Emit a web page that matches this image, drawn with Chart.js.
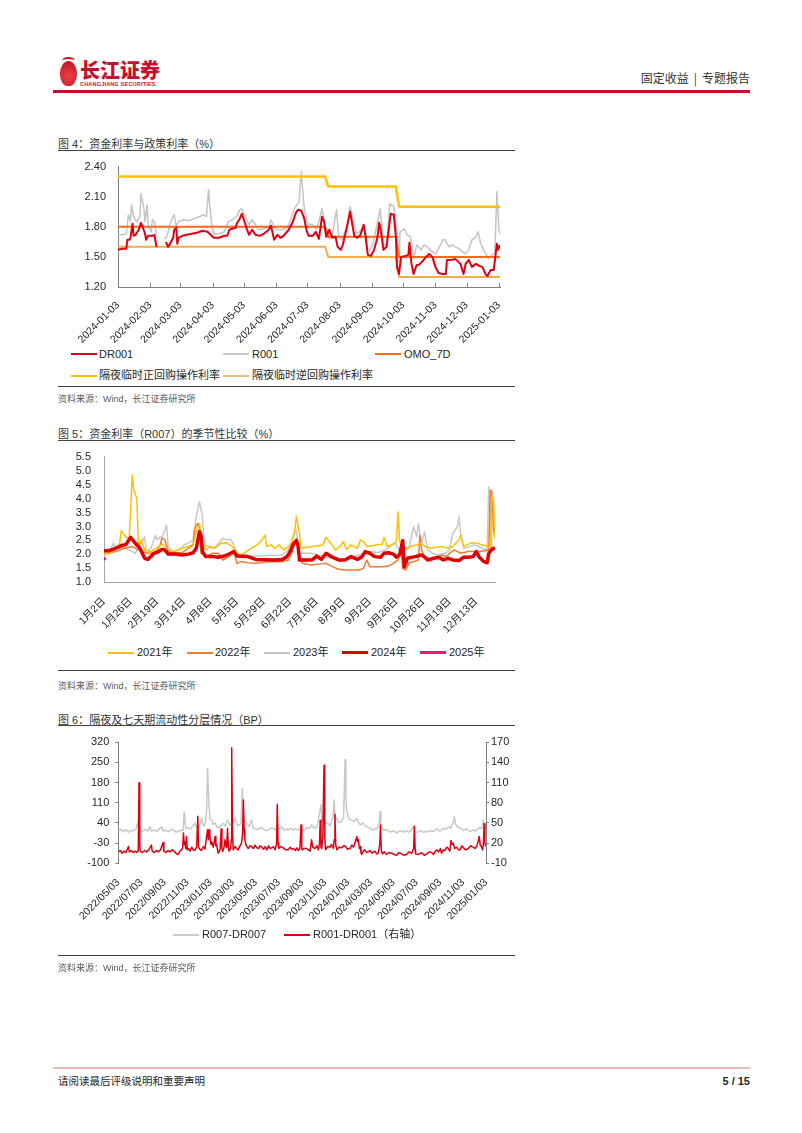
<!DOCTYPE html>
<html><head><meta charset="utf-8">
<script src="https://cdn.jsdelivr.net/npm/chart.js@4.4.1/dist/chart.umd.min.js"></script>
<style>
html,body{margin:0;padding:0;background:#fff;}
body{width:802px;height:1133px;position:relative;overflow:hidden;font-family:"Liberation Sans",Arial,"Noto Sans CJK SC",sans-serif;color:#262626;}
.rule{position:absolute;left:58px;width:457px;height:1px;background:#404040;}
.title{position:absolute;left:58px;font-size:11px;color:#333;line-height:12px;white-space:nowrap;}
.src{position:absolute;left:58px;font-size:9px;color:#595959;line-height:11px;white-space:nowrap;}
.lg{position:absolute;font-size:11px;line-height:13px;white-space:nowrap;color:#262626;}
.sw{position:absolute;height:2px;width:26px;}
canvas{position:absolute;}
</style></head>
<body>
<!-- header -->
<div style="position:absolute;left:60px;top:61px;width:17px;height:25px;border-radius:50% 50% 46% 46%;background:radial-gradient(circle at 50% 60%,#f04048,#b5121b);"></div>
<div style="position:absolute;left:62px;top:57px;width:13px;height:5px;border-top:2px solid #c8102e;border-radius:50%;"></div>
<div style="position:absolute;left:80px;top:59px;font-family:'Noto Sans CJK SC';font-weight:900;font-size:20px;line-height:22px;color:#c8102e;">长江证券</div>
<div style="position:absolute;left:80px;top:81px;font-size:5.5px;line-height:6px;font-weight:bold;color:#c8102e;letter-spacing:0.2px;">CHANGJIANG SECURITIES</div>
<div style="position:absolute;right:52px;top:71px;font-size:12px;line-height:14px;color:#333;font-family:'Noto Sans CJK SC';white-space:nowrap;">固定收益<span style="margin:0 5px;">|</span>专题报告</div>
<div style="position:absolute;left:53px;top:90px;width:697px;height:2.5px;background:#c8102e;"></div>

<!-- chart 4 -->
<div class="title" style="top:138px;">图 4：资金利率与政策利率（%）</div>
<div class="rule" style="top:150px;"></div>
<canvas id="c4" width="470" height="190" style="left:55px;top:155px;width:470px;height:190px"></canvas>
<div class="sw" style="left:71px;top:353px;background:#E00012;"></div><div class="lg" style="left:99px;top:347.5px;">DR001</div>
<div class="sw" style="left:223px;top:353px;background:#C8C8C8;"></div><div class="lg" style="left:252px;top:347.5px;">R001</div>
<div class="sw" style="left:375px;top:353px;background:#FF6A1A;"></div><div class="lg" style="left:404px;top:347.5px;">OMO_7D</div>
<div class="sw" style="left:71px;top:374.5px;background:#FFC000;"></div><div class="lg" style="left:99px;top:369px;">隔夜临时正回购操作利率</div>
<div class="sw" style="left:223px;top:374.5px;background:#E9C07A;"></div><div class="lg" style="left:252px;top:369px;">隔夜临时逆回购操作利率</div>
<div class="rule" style="top:386px;"></div>
<div class="src" style="top:394px;">资料来源：Wind，长江证券研究所</div>

<!-- chart 5 -->
<div class="title" style="top:428px;">图 5：资金利率（R007）的季节性比较（%）</div>
<div class="rule" style="top:440px;"></div>
<canvas id="c5" width="470" height="190" style="left:55px;top:445px;width:470px;height:190px"></canvas>
<div class="sw" style="left:108px;top:651.5px;background:#FFC000;"></div><div class="lg" style="left:137px;top:646px;">2021年</div>
<div class="sw" style="left:187px;top:651.5px;background:#ED7D31;"></div><div class="lg" style="left:215px;top:646px;">2022年</div>
<div class="sw" style="left:264px;top:651.5px;background:#C8C8C8;"></div><div class="lg" style="left:293px;top:646px;">2023年</div>
<div class="sw" style="left:342px;top:650.5px;height:3.5px;background:#E00000;"></div><div class="lg" style="left:371px;top:646px;">2024年</div>
<div class="sw" style="left:420px;top:651px;height:3px;background:#F0147D;"></div><div class="lg" style="left:449px;top:646px;">2025年</div>
<div class="rule" style="top:670px;"></div>
<div class="src" style="top:680.5px;">资料来源：Wind，长江证券研究所</div>

<!-- chart 6 -->
<div class="title" style="top:714px;">图 6：隔夜及七天期流动性分层情况（BP）</div>
<div class="rule" style="top:725px;"></div>
<canvas id="c6" width="470" height="200" style="left:55px;top:730px;width:470px;height:200px"></canvas>
<div class="sw" style="left:173px;top:933.5px;background:#C8C8C8;"></div><div class="lg" style="left:202px;top:928px;">R007-DR007</div>
<div class="sw" style="left:284px;top:933.5px;background:#E00012;"></div><div class="lg" style="left:313px;top:928px;">R001-DR001（右轴）</div>
<div class="rule" style="top:955px;"></div>
<div class="src" style="top:963px;">资料来源：Wind，长江证券研究所</div>

<!-- footer -->
<div style="position:absolute;left:53px;top:1067px;width:697px;height:2px;background:#F4B9B9;"></div>
<div style="position:absolute;left:58px;top:1075px;font-size:10.5px;line-height:12px;color:#262626;font-family:'Noto Sans CJK SC';">请阅读最后评级说明和重要声明</div>
<div style="position:absolute;right:52px;top:1075px;font-size:11px;line-height:12px;font-weight:bold;color:#262626;">5 / 15</div>

<script>
// ===== Chart 4 data (x = days since 2024-01-03) =====
const c4TickDays = [0,31,60,91,121,152,182,213,244,274,305,335,366];
const c4TickLabels = ['2024-01-03','2024-02-03','2024-03-03','2024-04-03','2024-05-03','2024-06-03','2024-07-03','2024-08-03','2024-09-03','2024-10-03','2024-11-03','2024-12-03','2025-01-03'];
const c4YTicks = [1.2,1.5,1.8,2.1,2.4];
const dr001 = [[0,1.57],[4,1.58],[8,1.58],[9,1.67],[11,1.67],[12,1.69],[14,1.83],[15,1.71],[17,1.72],[18,1.74],[20,1.77],[22,1.84],[24,1.79],[26,1.73],[27,1.67],[29,1.71],[31,1.71],[33,1.71],[35,1.72],[37,1.60],[41,null],[46,1.65],[48,1.60],[50,1.63],[53,1.69],[54,1.77],[56,1.79],[57,1.63],[58,1.69],[62,1.71],[66,1.72],[71,1.73],[76,1.74],[81,1.76],[86,1.75],[89,1.72],[92,1.69],[97,1.69],[102,1.71],[105,1.71],[107,1.77],[110,1.78],[113,1.79],[114,1.83],[117,1.88],[119,1.93],[121,1.87],[124,1.77],[126,1.72],[129,1.77],[132,1.72],[136,1.71],[140,1.73],[145,1.77],[147,1.81],[150,1.67],[153,1.72],[156,1.69],[159,1.71],[164,1.77],[168,1.85],[171,1.94],[173,1.97],[176,1.96],[179,1.88],[181,1.77],[183,1.71],[187,1.71],[190,1.75],[193,1.68],[196,1.90],[198,1.85],[200,1.70],[203,1.77],[206,1.69],[209,1.70],[211,1.60],[214,1.57],[216,1.62],[220,1.80],[223,1.95],[225,1.83],[227,1.71],[230,1.69],[233,1.72],[236,1.82],[238,1.70],[240,1.52],[243,1.51],[246,1.57],[249,1.68],[251,1.84],[253,1.73],[255,1.57],[258,1.60],[262,1.93],[265,1.92],[267,1.70],[268,1.40],[270,1.33],[272,1.50],[276,1.51],[279,1.52],[280,1.64],[282,1.43],[284,1.33],[287,1.42],[289,1.42],[292,1.45],[296,1.50],[299,1.53],[302,1.50],[305,1.40],[308,1.34],[312,1.33],[315,1.33],[316,1.47],[320,1.47],[324,1.48],[329,1.43],[332,1.33],[334,1.43],[337,1.47],[340,1.40],[344,1.43],[347,1.41],[350,1.40],[353,1.33],[355,1.31],[358,1.37],[361,1.37],[364,1.63],[365,1.57],[367,1.62]];
const r001 = [[0,1.72],[5,1.72],[8,1.73],[10,1.92],[12,1.85],[13,2.02],[15,1.90],[18,1.85],[21,1.90],[22,2.13],[25,1.98],[26,1.85],[28,2.02],[29,1.80],[32,1.75],[33,1.87],[35,1.85],[37,1.73],[41,null],[44,1.68],[47,1.70],[50,1.83],[53,1.90],[54,1.92],[56,1.80],[58,1.85],[63,1.87],[68,1.86],[73,1.88],[78,1.90],[82,1.92],[85,1.90],[87,2.17],[88,2.03],[90,1.82],[92,1.73],[97,1.73],[102,1.75],[106,1.85],[110,1.87],[114,1.90],[117,1.97],[119,1.98],[121,1.93],[124,1.87],[126,1.82],[129,1.87],[132,1.82],[135,1.77],[140,1.78],[145,1.80],[147,1.87],[150,1.80],[153,1.77],[156,1.77],[161,1.78],[164,1.82],[167,1.90],[169,1.97],[174,2.05],[176,2.35],[179,1.97],[182,1.83],[187,1.82],[191,1.77],[196,1.98],[199,1.80],[203,1.68],[206,1.72],[210,1.97],[212,1.70],[215,1.67],[220,1.80],[223,2.00],[226,1.87],[229,1.73],[232,1.75],[236,1.80],[239,1.57],[242,1.57],[245,1.63],[249,1.83],[252,1.98],[255,1.63],[258,1.60],[261,2.03],[265,2.00],[268,1.78],[270,1.45],[271,1.75],[275,1.78],[278,1.72],[281,1.70],[284,1.48],[287,1.62],[291,1.57],[294,1.62],[297,1.60],[300,1.57],[305,1.53],[308,1.58],[312,1.67],[314,1.67],[318,1.60],[321,1.62],[324,1.60],[328,1.58],[331,1.55],[334,1.53],[337,1.57],[340,1.67],[344,1.70],[346,1.75],[348,1.65],[352,1.55],[354,1.52],[356,1.48],[360,1.53],[362,1.53],[364,2.15],[366,1.77],[367,1.73]];
const policyDay = [0,199,202,267,270,367];
const omo7d     = [1.80,1.80,1.70,1.70,1.50,1.50];
const posRepo   = [2.30,2.30,2.20,2.20,2.00,2.00];
const revRepo   = [1.60,1.60,1.50,1.50,1.30,1.30];

// ===== Chart 5 data (x = trading-day index in year) =====
const c5TickIdx = [0,17,34,51,68,85,102,119,136,153,170,187,204,221,238];
const c5TickLabels = ['1月2日','1月26日','2月19日','3月14日','4月8日','5月5日','5月29日','6月22日','7月16日','8月9日','9月2日','9月26日','10月26日','11月19日','12月13日'];
const c5YTicks = [1.0,1.5,2.0,2.5,3.0,3.5,4.0,4.5,5.0,5.5];
const y2021 = [[0,2.00],[4,2.05],[7,2.20],[10,2.40],[11,2.85],[13,2.69],[16,2.52],[17,3.50],[18,4.84],[19,4.31],[21,4.00],[22,2.28],[24,2.52],[26,2.16],[30,2.10],[35,2.28],[37,2.37],[41,2.16],[45,2.10],[50,2.22],[54,2.28],[57,2.37],[59,2.81],[61,3.11],[62,2.75],[65,2.16],[68,2.28],[71,2.22],[75,2.40],[78,2.42],[82,2.28],[85,2.04],[88,1.98],[91,2.10],[94,2.22],[98,2.34],[101,2.52],[103,2.69],[104,2.28],[107,2.34],[109,2.22],[112,2.34],[115,2.16],[118,2.28],[120,2.46],[122,2.87],[123,3.35],[125,2.75],[126,2.22],[133,2.28],[140,2.34],[142,2.61],[145,2.40],[148,2.16],[151,2.28],[153,2.46],[155,2.18],[158,2.34],[162,2.22],[164,2.52],[166,2.46],[168,2.28],[174,2.34],[178,2.37],[179,2.61],[181,2.28],[184,2.34],[187,2.46],[188,3.53],[189,2.52],[190,2.28],[194,2.22],[197,2.30],[200,2.34],[203,2.40],[205,2.28],[209,2.22],[216,2.28],[220,2.22],[223,2.28],[227,2.52],[228,2.69],[230,2.28],[232,2.34],[235,2.42],[238,2.40],[242,2.34],[245,2.30],[247,2.20],[248,4.05],[249,4.00],[250,2.55]];
const y2022 = [[0,2.00],[3,2.04],[9,2.13],[13,2.22],[18,2.28],[22,2.16],[24,2.10],[28,2.04],[33,2.06],[36,2.34],[37,2.58],[39,2.52],[41,2.10],[45,2.06],[50,2.06],[54,2.22],[57,2.34],[58,2.93],[60,3.11],[61,2.95],[62,2.04],[66,1.94],[69,2.04],[73,2.04],[76,1.80],[80,1.92],[83,2.10],[85,1.68],[88,1.74],[92,1.70],[97,1.68],[105,1.74],[114,1.74],[118,1.80],[120,2.04],[122,2.40],[123,2.58],[125,1.86],[127,1.68],[132,1.62],[139,1.66],[142,1.68],[146,1.56],[150,1.47],[154,1.44],[163,1.44],[166,1.50],[168,1.80],[170,1.56],[178,1.56],[182,1.58],[185,1.68],[188,1.80],[190,2.10],[191,1.50],[193,1.44],[195,1.70],[198,1.74],[201,1.80],[202,2.69],[203,2.16],[205,1.92],[209,1.80],[212,1.86],[216,1.98],[219,1.92],[221,2.04],[224,2.16],[228,2.04],[233,2.10],[240,2.10],[246,2.16],[247,4.31],[248,4.25],[249,2.87],[250,2.60]];
const y2023 = [[0,2.00],[4,2.10],[6,2.40],[8,2.22],[11,2.28],[14,2.22],[18,2.10],[20,2.04],[22,2.22],[25,2.52],[26,2.63],[27,2.10],[30,2.22],[33,2.69],[34,2.52],[36,2.63],[37,2.58],[40,3.05],[41,2.28],[44,2.10],[48,2.16],[51,2.34],[54,2.40],[57,2.52],[59,3.35],[61,3.89],[63,3.35],[64,2.34],[67,2.28],[70,2.22],[73,2.37],[76,2.58],[78,2.52],[81,2.54],[83,2.34],[85,2.04],[88,1.92],[114,1.98],[118,2.16],[121,2.58],[123,2.87],[124,2.40],[125,2.04],[133,2.04],[141,1.92],[146,1.86],[154,1.82],[158,1.90],[163,1.98],[171,2.10],[175,2.06],[180,2.16],[183,2.28],[186,2.40],[188,2.22],[191,2.10],[195,2.22],[198,2.99],[200,2.63],[201,3.11],[203,2.40],[205,2.81],[207,2.16],[210,2.04],[214,1.98],[218,2.04],[221,2.16],[223,2.75],[226,2.99],[227,3.35],[228,2.75],[230,2.22],[237,2.34],[242,2.22],[245,2.16],[246,4.42],[247,3.71],[248,2.28],[250,2.04]];
const y2024 = [[0,2.13],[3,2.13],[6,2.19],[9,2.25],[11,2.32],[14,2.35],[17,2.61],[20,2.40],[23,2.22],[26,1.86],[28,1.82],[32,2.04],[35,2.10],[37,2.18],[39,2.16],[41,2.01],[45,2.01],[50,1.98],[54,2.01],[57,2.06],[59,2.22],[61,2.81],[62,2.69],[63,2.10],[65,1.92],[70,1.92],[73,1.90],[77,1.94],[81,2.04],[83,2.10],[85,1.94],[92,1.92],[97,1.82],[109,1.80],[114,1.82],[117,1.92],[119,2.10],[121,2.37],[123,2.49],[124,2.34],[125,1.80],[133,1.80],[136,1.94],[139,1.82],[142,2.04],[146,1.90],[150,1.80],[154,1.80],[158,1.92],[162,1.82],[165,1.92],[167,2.10],[170,2.04],[173,1.92],[177,1.90],[179,2.04],[182,2.06],[185,2.01],[187,1.90],[189,1.98],[191,2.49],[192,1.55],[194,1.86],[199,1.92],[203,1.98],[205,1.90],[207,1.80],[211,1.86],[214,1.90],[217,1.80],[220,1.86],[223,1.80],[227,1.78],[230,1.90],[233,1.90],[236,1.92],[238,2.10],[240,1.90],[243,1.74],[245,1.70],[246,2.04],[248,2.18],[250,2.24]];
const y2025 = [[0,1.80],[1,1.88]];

// ===== Chart 6 data (x = days since 2022-05-03) =====
const c6TickDays = [0,61,123,184,245,304,365,426,488,549,610,670,731,792,854,915,976];
const c6TickLabels = ['2022/05/03','2022/07/03','2022/09/03','2022/11/03','2023/01/03','2023/03/03','2023/05/03','2023/07/03','2023/09/03','2023/11/03','2024/01/03','2024/03/03','2024/05/03','2024/07/03','2024/09/03','2024/11/03','2025/01/03'];
const c6LeftTicks = [-100,-30,40,110,180,250,320];
const c6RightTicks = [-10,20,50,80,110,140,170];
const r007Spread = [[0,12],[7,18],[13,10],[20,16],[27,8],[33,14],[40,12],[47,20],[53,45],[56,14],[63,10],[71,18],[78,12],[84,27],[88,12],[95,16],[102,10],[109,20],[115,27],[119,12],[126,15],[133,10],[140,16],[146,18],[152,9],[159,10],[165,15],[172,14],[175,79],[179,20],[185,24],[190,18],[197,28],[204,39],[208,22],[212,25],[217,35],[221,56],[225,30],[228,30],[231,45],[234,73],[237,230],[240,120],[243,55],[248,50],[252,35],[257,40],[261,28],[265,22],[272,30],[279,39],[284,28],[290,50],[296,33],[303,40],[310,56],[315,35],[319,30],[326,40],[329,160],[332,80],[336,45],[341,39],[347,28],[354,50],[358,22],[365,20],[372,18],[378,24],[385,20],[391,14],[398,15],[404,22],[411,22],[417,16],[423,28],[429,20],[434,27],[440,14],[446,20],[451,15],[458,22],[464,14],[469,20],[475,15],[481,22],[487,18],[494,14],[500,25],[507,20],[513,33],[520,22],[527,25],[531,50],[535,80],[538,103],[541,45],[544,62],[550,40],[557,39],[562,30],[566,45],[570,60],[573,120],[576,50],[580,56],[586,40],[593,45],[598,60],[602,259],[604,120],[606,85],[612,55],[619,50],[626,45],[633,56],[638,40],[642,33],[650,40],[655,30],[659,27],[668,22],[672,18],[677,15],[683,22],[688,20],[692,40],[695,79],[697,30],[699,25],[705,14],[710,18],[717,13],[723,8],[728,14],[734,10],[740,6],[746,12],[752,12],[758,8],[764,14],[770,8],[776,12],[783,27],[786,15],[788,10],[795,8],[800,14],[805,12],[812,7],[817,12],[823,9],[829,14],[834,10],[840,14],[846,20],[852,12],[858,15],[864,22],[870,18],[876,27],[882,22],[886,35],[889,40],[892,62],[895,38],[898,30],[904,24],[911,20],[917,14],[923,20],[929,15],[935,10],[941,16],[947,12],[953,18],[960,25],[965,20],[969,50],[971,35],[973,27],[976,20]];
const r001Spread = [[0,7],[5,9],[10,5],[15,8],[20,6],[27,15],[29,7],[35,9],[40,6],[45,8],[49,6],[53,9],[55,110],[57,20],[58,8],[64,6],[70,9],[75,7],[81,10],[88,17],[90,8],[96,6],[101,9],[106,7],[112,10],[119,21],[121,8],[127,6],[132,9],[137,7],[143,10],[150,7],[155,4],[159,3],[163,8],[168,10],[171,14],[173,35],[175,18],[177,22],[179,12],[181,30],[183,10],[186,12],[190,8],[195,14],[200,9],[204,10],[208,14],[211,60],[213,14],[215,12],[220,9],[226,15],[230,11],[234,28],[237,40],[239,25],[241,40],[243,30],[246,18],[248,22],[252,14],[257,30],[259,16],[261,18],[264,8],[265,5],[270,10],[273,41],[275,12],[277,8],[280,12],[283,25],[286,14],[288,20],[290,42],[292,16],[294,8],[298,12],[300,25],[301,162],[303,40],[305,10],[310,15],[314,12],[318,10],[323,16],[327,20],[330,35],[332,84],[334,40],[336,25],[340,16],[345,12],[350,16],[354,15],[358,12],[363,17],[368,13],[372,12],[376,16],[381,14],[386,11],[390,15],[394,10],[399,16],[403,12],[407,13],[412,15],[416,10],[420,18],[422,78],[424,20],[426,12],[431,15],[438,13],[444,10],[451,10],[456,14],[461,11],[465,12],[470,9],[474,13],[478,9],[482,12],[485,47],[487,14],[488,10],[494,12],[500,12],[505,10],[509,8],[513,25],[516,14],[522,12],[527,16],[531,10],[534,20],[536,54],[538,14],[540,12],[543,30],[546,136],[548,30],[550,10],[556,15],[562,14],[566,18],[571,12],[573,25],[575,63],[577,18],[580,10],[586,14],[593,13],[598,16],[602,16],[608,11],[615,12],[620,17],[624,14],[628,20],[633,30],[635,22],[637,26],[640,12],[642,15],[644,6],[646,3],[650,8],[653,10],[660,6],[668,9],[674,5],[681,8],[686,4],[690,5],[694,18],[696,47],[698,10],[701,4],[706,7],[712,3],[718,6],[726,5],[732,3],[739,2],[745,6],[752,4],[758,2],[765,3],[772,7],[779,5],[784,12],[786,45],[788,10],[789,4],[796,3],[805,6],[812,2],[819,4],[826,7],[832,6],[837,3],[841,8],[846,10],[850,7],[855,12],[858,5],[863,10],[867,9],[872,14],[876,12],[880,8],[883,24],[886,18],[889,20],[893,12],[898,14],[903,10],[907,10],[912,16],[916,13],[922,10],[929,12],[935,16],[942,14],[947,12],[951,15],[955,22],[958,30],[961,16],[963,16],[967,10],[969,18],[971,49],[973,20],[976,15]];

// ===== helpers =====
Chart.defaults.font.family = '"Liberation Sans","Noto Sans CJK SC",sans-serif';
Chart.defaults.color = '#262626';
const pts = arr => arr.map(p => ({x:p[0], y:p[1]}));
const zip = (xs, ys) => xs.map((x,i) => ({x:x, y:ys[i]}));
const fixedTicks = vals => scale => { scale.ticks = vals.map(v => ({value:v})); };
// fix axis width and keep the vertical label padding small (so layout padding decides the plot top)
const fitW = w => s => { s.width = w; s.paddingTop = 6; s.paddingBottom = 6; };
const fitH = h => s => { s.height = h; };
const innerTicks = {
  id:'innerTicks',
  afterDraw(chart, args, opts){
    if(!opts || !opts.len) return;
    const s = chart.scales.x, ctx = chart.ctx, b = chart.chartArea.bottom;
    ctx.save(); ctx.strokeStyle = opts.color; ctx.lineWidth = 1;
    s.ticks.forEach(t => {
      const px = Math.round(s.getPixelForValue(t.value)) + 0.5;
      ctx.beginPath(); ctx.moveTo(px, b); ctx.lineTo(px, b - opts.len); ctx.stroke();
    });
    ctx.restore();
  }
};
const baseOpts = {
  responsive:false, devicePixelRatio:1, animation:false,
  elements:{point:{radius:0,hoverRadius:0}, line:{tension:0, borderJoinStyle:'round', borderCapStyle:'butt'}},
  plugins:{legend:{display:false}, tooltip:{enabled:false}},
  spanGaps:false
};

// ===== Chart 4 =====
new Chart(document.getElementById('c4'), {
  type:'line',
  data:{datasets:[
    {label:'DR001', data:pts(dr001), borderColor:'#E00012', borderWidth:2, order:1},
    {label:'R001', data:pts(r001), borderColor:'#C4C4C4', borderWidth:1.5, order:5},
    {label:'OMO_7D', data:zip(policyDay, omo7d), borderColor:'#FF6A1A', borderWidth:2, order:2},
    {label:'隔夜临时正回购操作利率', data:zip(policyDay, posRepo), borderColor:'#FFC000', borderWidth:2.5, order:3},
    {label:'隔夜临时逆回购操作利率', data:zip(policyDay, revRepo), borderColor:'#F2AE48', borderWidth:2, order:4}
  ]},
  options:Object.assign({}, baseOpts, {
    layout:{padding:{top:11.5, right:25, left:0, bottom:0}},
    plugins:{legend:{display:false}, tooltip:{enabled:false}, innerTicks:{len:4, color:'#7f7f7f'}},
    scales:{
      x:{type:'linear', min:0, max:367, afterBuildTicks:fixedTicks(c4TickDays), afterFit:fitH(58),
         grid:{display:false}, border:{display:true, color:'#7f7f7f', width:1},
         ticks:{autoSkip:false, maxRotation:45, minRotation:45, padding:4, font:{size:10.5}, color:'#262626',
                callback:(v,i) => c4TickLabels[i]}},
      y:{type:'linear', min:1.2, max:2.4, afterBuildTicks:fixedTicks(c4YTicks), afterFit:fitW(63),
         grid:{display:false, drawTicks:false}, border:{display:true, color:'#7f7f7f', width:1},
         ticks:{autoSkip:false, padding:12, font:{size:11}, color:'#262626', callback:v => v.toFixed(2)}}
    }
  }),
  plugins:[innerTicks]
});

// ===== Chart 5 =====
new Chart(document.getElementById('c5'), {
  type:'line',
  data:{datasets:[
    {label:'2021年', data:pts(y2021), borderColor:'#FFC000', borderWidth:1.5, order:3},
    {label:'2022年', data:pts(y2022), borderColor:'#ED7D31', borderWidth:1.5, order:4},
    {label:'2023年', data:pts(y2023), borderColor:'#C8C8C8', borderWidth:1.5, order:5},
    {label:'2024年', data:pts(y2024), borderColor:'#E00000', borderWidth:3.5, order:1},
    {label:'2025年', data:pts(y2025), borderColor:'#F0147D', borderWidth:2.5, order:0}
  ]},
  options:Object.assign({}, baseOpts, {
    layout:{padding:{top:11.7, right:30, left:0, bottom:0}},
    scales:{
      x:{type:'linear', min:0, max:250, afterBuildTicks:fixedTicks(c5TickIdx), afterFit:fitH(52.7),
         grid:{display:false}, border:{display:true, color:'#a6a6a6', width:1},
         ticks:{autoSkip:false, maxRotation:45, minRotation:45, padding:5, font:{size:10.5}, color:'#262626',
                callback:(v,i) => c5TickLabels[i]}},
      y:{type:'linear', min:1.0, max:5.5, afterBuildTicks:fixedTicks(c5YTicks), afterFit:fitW(49),
         grid:{display:false, drawTicks:false}, border:{display:true, color:'#a6a6a6', width:1},
         ticks:{autoSkip:false, padding:13, font:{size:11}, color:'#262626', callback:v => v.toFixed(1)}}
    }
  })
});

// ===== Chart 6 =====
new Chart(document.getElementById('c6'), {
  type:'line',
  data:{datasets:[
    {label:'R007-DR007', data:pts(r007Spread), borderColor:'#C8C8C8', borderWidth:1.5, yAxisID:'y', order:2},
    {label:'R001-DR001（右轴）', data:pts(r001Spread), borderColor:'#E00012', borderWidth:1.5, yAxisID:'y1', order:1}
  ]},
  options:Object.assign({}, baseOpts, {
    layout:{padding:{top:12.3, right:0, left:0, bottom:0}},
    scales:{
      x:{type:'linear', min:0, max:976, afterBuildTicks:fixedTicks(c6TickDays), afterFit:fitH(66.7),
         grid:{display:false}, border:{display:false},
         ticks:{autoSkip:false, maxRotation:45, minRotation:45, padding:5, font:{size:10.5}, color:'#262626',
                callback:(v,i) => c6TickLabels[i]}},
      y:{type:'linear', position:'left', min:-100, max:320, afterBuildTicks:fixedTicks(c6LeftTicks), afterFit:fitW(63.3),
         grid:{display:true, drawOnChartArea:false, drawTicks:true, tickLength:3, color:'#7f7f7f'},
         border:{display:true, color:'#7f7f7f', width:1},
         ticks:{autoSkip:false, padding:6, font:{size:11}, color:'#262626'}},
      y1:{type:'linear', position:'right', min:-10, max:170, afterBuildTicks:fixedTicks(c6RightTicks), afterFit:fitW(39),
         grid:{display:true, drawOnChartArea:false, drawTicks:true, tickLength:3, color:'#7f7f7f'},
         border:{display:true, color:'#7f7f7f', width:1},
         ticks:{autoSkip:false, padding:2, font:{size:11}, color:'#262626'}}
    }
  })
});
</script>
</body></html>
